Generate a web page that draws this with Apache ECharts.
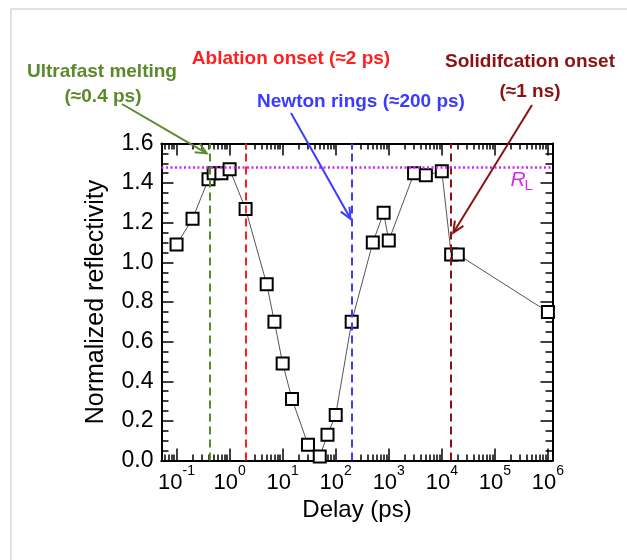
<!DOCTYPE html>
<html>
<head>
<meta charset="utf-8">
<script src="https://cdn.jsdelivr.net/npm/echarts@6/dist/echarts.min.js"></script>
<style>
  html, body { margin: 0; padding: 0; background: #fff; }
  #chart { width: 627px; height: 560px; }
</style>
</head>
<body>
<div id="chart"></div>
<script>
// data
var delays = [0.1, 0.2, 0.4, 0.5, 0.7, 1, 2, 5, 7, 10, 15, 30, 50, 70, 100, 200, 500, 800, 1000, 3000, 5000, 10000, 15000, 20000, 1000000];
var reflectivity = [1.09, 1.22, 1.42, 1.45, 1.45, 1.47, 1.27, 0.89, 0.70, 0.49, 0.31, 0.08, 0.02, 0.13, 0.23, 0.70, 1.10, 1.25, 1.11, 1.45, 1.44, 1.46, 1.04, 1.04, 0.75];
var xTickValues = [0.1, 1, 10, 100, 1000, 10000, 100000, 1000000];
var xTickExponents = ['-1', '0', '1', '2', '3', '4', '5', '6'];
var eventDelays = [0.42, 2, 200, 15000];
var eventColors = ['#5b8a2a', '#ff1f1f', '#3b3bff', '#8b1212'];
var rL = 1.48;

var font = '"Liberation Sans", Arial, sans-serif';
var xMin = 0.052, xMax = 1.22e6;

var minorTicks = [];
for (var n = -2; n <= 6; n++) {
  for (var k = 2; k <= 9; k++) {
    var v = Number((k * Math.pow(10, n)).toPrecision(3));
    if (v > xMin && v < xMax) minorTicks.push(v);
  }
}

function logAxis(pos, values, len, showLabel) {
  var ax = {
    type: 'log', logBase: 10, position: pos, min: xMin, max: xMax,
    axisLine: { show: true, lineStyle: { color: '#000', width: 2 } },
    axisTick: { show: true, inside: true, length: len, customValues: values, lineStyle: { color: '#000', width: 1.5 } },
    axisLabel: { show: false },
    splitLine: { show: false },
    minorTick: { show: false },
    axisPointer: { show: false }
  };
  if (showLabel) {
    ax.axisLabel = {
      show: true, margin: 4, customValues: xTickValues,
      formatter: function (val) {
        var i = xTickValues.indexOf(val);
        return '{b|10}{s|' + xTickExponents[i] + '}';
      },
      rich: {
        b: { fontFamily: font, fontSize: 22, color: '#000', lineHeight: 29, verticalAlign: 'bottom' },
        s: { fontFamily: font, fontSize: 14, color: '#000', lineHeight: 14, verticalAlign: 'top' }
      }
    };
    ax.name = 'Delay (ps)';
    ax.nameLocation = 'middle';
    ax.nameGap = 36;
    ax.nameTextStyle = { fontFamily: font, fontSize: 24, color: '#000' };
  }
  return ax;
}

function valAxis(pos, showLabel) {
  var ax = {
    type: 'value', position: pos, min: 0, max: 1.6, interval: 0.2,
    axisLine: { show: true, lineStyle: { color: '#000', width: 2 } },
    axisTick: { show: true, inside: true, length: 12, lineStyle: { color: '#000', width: 1.5 } },
    minorTick: { show: true, splitNumber: 4, length: 7, lineStyle: { color: '#000', width: 1.5 } },
    splitLine: { show: false },
    axisLabel: { show: false }
  };
  if (showLabel) {
    ax.axisLabel = {
      show: true, margin: 8, fontFamily: font, fontSize: 23, color: '#000',
      formatter: function (v) { return v.toFixed(1); }
    };
    ax.name = 'Normalized reflectivity';
    ax.nameLocation = 'middle';
    ax.nameGap = 53;
    ax.nameTextStyle = { fontFamily: font, fontSize: 25, color: '#000' };
  }
  return ax;
}

var points = delays.map(function (d, i) { return [d, reflectivity[i]]; });

var lineMarks = eventDelays.map(function (d, i) {
  return { xAxis: d, lineStyle: { color: eventColors[i], type: [8, 5], width: 2 } };
});
lineMarks.push({ yAxis: rL, lineStyle: { color: '#cf27ef', type: [2, 2.5], width: 2.5 } });

var chart = echarts.init(document.getElementById('chart'));
chart.setOption({
  animation: false,
  backgroundColor: '#fff',
  grid: { left: 161.5, top: 143.5, right: 74.5, bottom: 99.5, containLabel: false },
  xAxis: [
    logAxis('bottom', xTickValues, 12, true),
    logAxis('bottom', minorTicks, 6, false),
    logAxis('top', xTickValues, 12, false),
    logAxis('top', minorTicks, 6, false)
  ],
  yAxis: [valAxis('left', true), valAxis('right', false)],
  series: [
    {
      type: 'line', data: points, xAxisIndex: 0, yAxisIndex: 0, z: 1,
      symbol: 'none', lineStyle: { opacity: 0 }, silent: true,
      markLine: { silent: true, symbol: 'none', label: { show: false }, data: lineMarks, animation: false }
    },
    {
      type: 'line', data: points, xAxisIndex: 0, yAxisIndex: 0, z: 3,
      symbol: 'rect', symbolSize: 12, showAllSymbol: true, clip: false, silent: true,
      itemStyle: { color: '#fff', borderColor: '#000', borderWidth: 2 },
      lineStyle: { color: '#555', width: 1 }
    }
  ]
});

function px(d, r) { return chart.convertToPixel({ seriesIndex: 1 }, [d, r]); }

function arrow(from, to, color) {
  var dx = to[0] - from[0], dy = to[1] - from[1];
  var len = Math.sqrt(dx * dx + dy * dy), ux = dx / len, uy = dy / len;
  var h = 11, w = 5;
  var bx = to[0] - ux * h, by = to[1] - uy * h;
  return [
    { type: 'line', shape: { x1: from[0], y1: from[1], x2: to[0], y2: to[1] }, style: { stroke: color, lineWidth: 2 }, z: 20 },
    { type: 'polyline', shape: { points: [[bx - uy * w, by + ux * w], to, [bx + uy * w, by - ux * w]] }, style: { stroke: color, lineWidth: 2, fill: null }, z: 20 }
  ];
}

function label(text, x, y, color) {
  return {
    type: 'text', z: 20,
    style: { text: text, x: x, y: y, fill: color, font: 'bold 19px ' + font, align: 'center', verticalAlign: 'middle' }
  };
}

var top = px(1, 1.6)[1];
var right = px(xMax, 0)[0];
var rlY = px(1, rL)[1];

var graphics = [
  { type: 'rect', shape: { x: 11, y: 9, width: 700, height: 700 }, style: { stroke: '#d8d8d8', lineWidth: 1.5, fill: null }, z: 0 },
  label('Ultrafast melting', 102, 72, eventColors[0]),
  label('(\u22480.4 ps)', 103, 97, eventColors[0]),
  label('Ablation onset (\u22482 ps)', 291, 59, eventColors[1]),
  label('Newton rings (\u2248200 ps)', 361, 102, eventColors[2]),
  label('Solidifcation onset', 530, 62, eventColors[3]),
  label('(\u22481 ns)', 530, 92, eventColors[3]),
  { type: 'text', z: 20, style: { text: 'R', x: right - 42, y: rlY + 12.5, fill: '#d62af0', font: 'italic 21px ' + font, align: 'left', verticalAlign: 'middle' } },
  { type: 'text', z: 20, style: { text: 'L', x: right - 28, y: rlY + 19, fill: '#d62af0', font: '15px ' + font, align: 'left', verticalAlign: 'middle' } }
];
graphics = graphics
  .concat(arrow([122, 104], px(0.37, 1.55), eventColors[0]))
  .concat(arrow([199, 71], [px(1.8, 1.6)[0], top - 5], eventColors[1]))
  .concat(arrow([291, 113], px(190, 1.22), eventColors[2]))
  .concat(arrow([532, 105], px(16500, 1.15), eventColors[3]));

chart.setOption({ graphic: graphics });
</script>
</body>
</html>
